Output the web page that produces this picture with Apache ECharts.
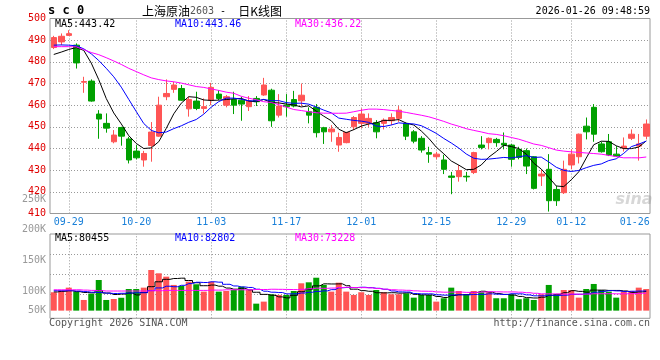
<!DOCTYPE html>
<html><head><meta charset="utf-8">
<script src="https://cdn.jsdelivr.net/npm/echarts@6/dist/echarts.min.js"></script>
<style>html,body{margin:0;padding:0;background:#fff}#c{width:660px;height:360px}</style>
</head><body><div id="c"></div>
<script>
// ---------- data ----------
const dates = ['09-25','09-26','09-29','09-30',
 '10-09','10-10','10-13','10-14','10-15','10-16','10-17','10-20','10-21','10-22','10-23','10-24','10-27','10-28','10-29','10-30','10-31',
 '11-03','11-04','11-05','11-06','11-07','11-10','11-11','11-12','11-13','11-14','11-17','11-18','11-19','11-20','11-21','11-24','11-25','11-26','11-27','11-28',
 '12-01','12-02','12-03','12-04','12-05','12-08','12-09','12-10','12-11','12-12','12-15','12-16','12-17','12-18','12-19','12-22','12-23','12-24','12-25','12-26','12-29','12-30','12-31',
 '01-05','01-06','01-07','01-08','01-09','01-12','01-13','01-14','01-15','01-16','01-19','01-20','01-21','01-22','01-23','01-26'];
const xTickLabels = ['09-29','10-20','11-03','11-17','12-01','12-15','12-29','01-12','01-26'];

const opens = [486.6,489.2,492.2,487.7,470.6,471.1,455.9,451.6,443.1,449.7,
 444.4,438.8,434.7,441.4,445.7,463.9,467.3,467.7,458.3,461.9,
 458.5,462.3,465.1,460.0,462.6,462.3,459.3,463.1,464.7,466.9,
 455.4,460.0,462.6,462.0,457.0,459.0,449.6,447.7,441.6,442.7,
 450.0,451.6,451.6,451.9,451.6,452.8,453.9,451.6,447.7,444.7,
 438.1,436.2,434.7,427.3,427.0,427.2,428.9,441.6,442.7,444.2,
 442.4,441.6,439.6,439.0,436.2,427.3,430.4,421.1,419.6,432.4,
 436.2,450.3,459.0,442.1,443.1,437.4,440.2,444.7,441.1,445.7];
const closes = [491.2,491.8,493.0,479.5,470.9,461.9,453.6,449.4,446.2,445.7,
 434.7,435.7,437.7,447.6,460.0,465.4,469.3,462.3,462.6,458.5,
 459.3,468.2,463.1,463.9,460.0,460.5,461.9,461.6,469.3,452.8,
 459.6,459.3,459.6,464.6,455.4,447.3,447.7,449.0,445.1,447.4,
 454.3,455.9,453.9,447.7,453.1,454.3,457.7,445.7,443.4,439.3,
 437.4,437.4,430.4,426.7,429.8,426.9,438.1,440.5,444.7,442.7,
 441.6,435.0,435.9,431.9,421.6,428.2,415.9,415.9,430.4,437.4,
 446.6,447.7,446.6,438.5,437.0,436.5,441.1,446.6,442.1,451.3];
const lows = [485.9,487.7,492.0,476.9,465.7,461.6,444.5,447.3,442.4,441.3,
 433.1,435.0,431.6,433.9,445.4,462.3,465.7,462.0,454.7,457.7,
 456.2,460.0,462.3,459.0,455.9,452.8,457.3,459.6,464.3,450.0,
 454.3,454.7,459.0,459.6,451.6,445.1,442.1,443.1,438.5,442.4,
 448.5,449.3,450.0,444.7,448.8,450.8,452.3,443.9,442.4,438.1,
 433.4,435.0,428.2,418.9,424.7,424.7,428.2,439.6,439.6,440.8,
 439.6,431.6,435.0,428.2,421.1,422.7,410.9,413.5,419.0,430.4,
 433.1,444.2,443.1,438.1,436.5,436.2,438.6,443.9,434.4,444.2];
const highs = [492.0,493.1,494.6,488.5,473.1,471.9,457.7,456.2,448.5,450.0,
 445.4,441.6,438.9,452.2,463.9,471.9,470.8,469.3,463.9,466.2,
 463.1,470.3,466.9,464.7,466.2,463.9,464.2,464.2,472.6,467.6,
 465.1,465.1,466.6,470.0,459.0,460.5,450.0,450.8,447.3,447.7,
 455.0,458.5,456.2,453.1,453.9,456.2,459.6,451.9,448.5,445.7,
 440.8,438.5,437.1,429.2,432.4,429.2,438.5,445.7,445.1,444.9,
 447.4,442.1,440.8,440.0,436.5,430.1,437.4,422.7,434.4,439.6,
 446.9,454.3,460.5,443.1,446.7,441.1,445.1,448.8,446.7,453.4];
const volumes = [80000,82000,87500,81000,67400,77700,100000,67400,69000,71000,
 85300,85300,87500,116300,110900,105400,91900,90200,97200,93000,
 81000,97200,81000,82000,83700,89100,83700,61400,64700,76700,
 75600,75600,82000,94600,96200,103700,91900,81000,95600,81000,
 75600,80000,75600,83700,80000,76700,76700,78300,71200,75600,
 75600,64700,70200,87500,82000,76700,82000,80000,80000,70200,
 70200,76700,68600,70200,67400,76700,91900,76700,83700,83700,
 71200,85300,93500,83700,81000,71200,81000,82000,87500,85300];

// averages at the left edge need days before the chart
const ma5Head  = [483.4,484.5,485.7,486.6];
const ma10Head = [487.7,487.8,487.7,487.4,486.0,483.7,480.6,477.0,473.1];
const ma30Head = [487.0,487.0,487.0,486.9,485.6,484.3,483.3,481.9,480.4,478.8,477.0,475.5,474.0,472.6,471.8,
 471.2,470.8,470.2,469.4,468.6,468.2,467.5,466.8,466.0,465.5,464.1,463.2,462.5,461.6];
const volMa5Head  = [80500,81500,82500,81000];
const volMa10Head = [82500,82500,82500,82000,81000,80000,79500,78500,78000];
const volMa30Head = [84000,84000,84000,84000,83500,83000,82500,82000,82000,82000,82000,82000,82000,82500,82500,
 83000,83000,83000,83000,83000,83000,83500,83500,84000,84000,84000,84000,84500,84500];

const priceMaLabels = ['MA5:443.42','MA10:443.46','MA30:436.22'];
const volMaLabels = ['MA5:80455','MA10:82802','MA30:73228'];
const volBaseLevel = 50000;

// ---------- helpers ----------
function movingAvg(values, n, head) {
  return values.map((v, i) => {
    if (i < n - 1) return head[i];
    let s = 0;
    for (let k = i - n + 1; k <= i; k++) s += values[k];
    return +(s / n).toFixed(2);
  });
}
const RED = '#ff5555', GREEN = '#00a000';
const MONO = '"DejaVu Sans Mono", monospace';
const CJK = '"Noto Sans CJK SC", sans-serif';
const MA_COLORS = ['#000000', '#0000ff', '#ff00ff'];
const GRIDLINE = {type: [1, 2], color: '#999', width: 1};
const lastTick = xTickLabels[xTickLabels.length - 1];
const gridDates = xTickLabels.slice(0, -1);

const candleData = dates.map((d, i) => [opens[i], closes[i], lows[i], highs[i]]);
const ma5 = movingAvg(closes, 5, ma5Head);
const ma10 = movingAvg(closes, 10, ma10Head);
const ma30 = movingAvg(closes, 30, ma30Head);
const vma5 = movingAvg(volumes, 5, volMa5Head);
const vma10 = movingAvg(volumes, 10, volMa10Head);
const vma30 = movingAvg(volumes, 30, volMa30Head);

const vLines = {
  silent: true, symbol: 'none', z: 1, animation: false,
  label: {show: false}, lineStyle: GRIDLINE, emphasis: {disabled: true},
  data: gridDates.map(d => ({xAxis: d}))
};

function maSeries(data, color, xi, yi, step) {
  return {type: 'line', data, xAxisIndex: xi, yAxisIndex: yi, symbol: 'none', showSymbol: false,
    step: step || false, z: 3, silent: true,
    lineStyle: {color, width: 1}, itemStyle: {color}};
}

function txt(x, y, text, fill, align, font) {
  return {type: 'text', x, y, silent: true,
    style: {text, fill, font: font || ('10px ' + MONO), align: align || 'left', verticalAlign: 'middle',
            textAlign: align || 'left', textVerticalAlign: 'middle'}};
}

const chart = echarts.init(document.getElementById('c'));
chart.setOption({
  animation: false,
  backgroundColor: '#fff',
  grid: [
    {left: 50, right: 10, top: 18.5, height: 195, show: true, borderColor: '#999', borderWidth: 1},
    {left: 50, right: 10, top: 234, height: 84.3, show: true, borderColor: '#999', borderWidth: 1},
    {left: 50, right: 10, top: 188, height: 122.7},
    {left: 50, right: 10, top: 234, height: 80.3}
  ],
  xAxis: [
    {type: 'category', gridIndex: 0, data: dates, boundaryGap: true,
     axisLine: {show: false}, axisTick: {show: false}, splitLine: {show: false},
     axisLabel: {interval: (i, v) => xTickLabels.indexOf(v) >= 0, color: '#1a80d9',
       fontFamily: MONO, fontSize: 10, margin: 4,
       formatter: v => v === lastTick ? '{e|' + v + '}' : v,
       rich: {e: {padding: [0, 23, 0, 0], color: '#1a80d9', fontFamily: MONO, fontSize: 10}}}},
    {type: 'category', gridIndex: 1, data: dates, boundaryGap: true,
     axisLine: {show: false}, axisTick: {show: false}, axisLabel: {show: false}, splitLine: {show: false}},
    {type: 'value', gridIndex: 2, min: 0, max: 1, show: false},
    {type: 'value', gridIndex: 3, min: 0, max: 1, show: false}
  ],
  yAxis: [
    {type: 'value', gridIndex: 0, min: 410, max: 500, interval: 10, scale: true,
     axisLine: {show: false}, axisTick: {show: false},
     splitLine: {show: true, showMinLine: false, showMaxLine: false, lineStyle: GRIDLINE},
     axisLabel: {color: '#e00000', fontFamily: MONO, fontSize: 10, margin: 4, padding: [0, 0, 4, 0],
       showMinLabel: true, showMaxLabel: true}},
    {type: 'value', gridIndex: 1, min: 37500, max: 175000,
     axisLine: {show: false}, axisTick: {show: false}, axisLabel: {show: false}, splitLine: {show: false}},
    {type: 'value', gridIndex: 2, min: 50000, max: 250000, interval: 50000,
     axisLine: {show: false}, axisTick: {show: false}, splitLine: {show: false},
     axisLabel: {color: '#999', fontFamily: MONO, fontSize: 10, margin: 4, showMinLabel: true, showMaxLabel: true,
       formatter: v => v === volBaseLevel ? '{b|' + (v / 1000) + 'K}' : '{a|' + (v / 1000) + 'K}',
       rich: {a: {padding: [22, 0, 0, 0], color: '#999', fontFamily: MONO, fontSize: 10},
              b: {color: '#999', fontFamily: MONO, fontSize: 10}}}},
    {type: 'value', gridIndex: 3, min: 0, max: 4, interval: 1,
     axisLine: {show: false}, axisTick: {show: false}, axisLabel: {show: false},
     splitLine: {show: true, showMinLine: false, showMaxLine: false, lineStyle: GRIDLINE}}
  ],
  series: [
    {type: 'candlestick', name: 'K', data: candleData, xAxisIndex: 0, yAxisIndex: 0, barWidth: 6, z: 2,
     itemStyle: {color: RED, color0: GREEN, borderColor: RED, borderColor0: GREEN, borderWidth: 1},
     markLine: vLines},
    maSeries(ma5, MA_COLORS[0], 0, 0),
    maSeries(ma10, MA_COLORS[1], 0, 0),
    maSeries(ma30, MA_COLORS[2], 0, 0),
    {type: 'bar', name: 'base', stack: 'vol', data: dates.map(() => volBaseLevel), xAxisIndex: 1, yAxisIndex: 1,
     barWidth: 6, silent: true, z: 2, itemStyle: {color: 'rgba(0,0,0,0)'}, markLine: vLines},
    {type: 'bar', name: 'vol', stack: 'vol', data: volumes.map(v => v - volBaseLevel), xAxisIndex: 1, yAxisIndex: 1,
     barWidth: 6, silent: true, z: 2,
     itemStyle: {color: p => closes[p.dataIndex] >= opens[p.dataIndex] ? RED : GREEN}},
    maSeries(vma5, MA_COLORS[0], 1, 1, 'middle'),
    maSeries(vma10, MA_COLORS[1], 1, 1, 'middle'),
    maSeries(vma30, MA_COLORS[2], 1, 1, 'middle')
  ],
  graphic: [
    txt(48, 11, 's c 0', '#000', 'left', 'bold 12px ' + MONO),
    {type: 'text', x: 142, y: 11, silent: true,
     style: {text: '{a|上海原油}{b|2603}{c| -  }{a|日K线图}', verticalAlign: 'middle', textVerticalAlign: 'middle',
       rich: {a: {fontFamily: CJK, fontSize: 12, fill: '#000'},
              b: {fontFamily: MONO, fontSize: 10, fill: '#555'},
              c: {fontFamily: MONO, fontSize: 10, fill: '#000'}}}},
    txt(650, 11, '2026-01-26 09:48:59', '#000', 'right'),
    txt(55, 24, priceMaLabels[0], MA_COLORS[0]),
    txt(175, 24, priceMaLabels[1], MA_COLORS[1]),
    txt(295, 24, priceMaLabels[2], MA_COLORS[2]),
    txt(55, 238.5, volMaLabels[0], MA_COLORS[0]),
    txt(175, 238.5, volMaLabels[1], MA_COLORS[1]),
    txt(295, 238.5, volMaLabels[2], MA_COLORS[2]),
    txt(634, 200, 'sina', 'rgba(140,140,140,0.35)', 'center', 'italic bold 16px "DejaVu Sans", sans-serif'),
    txt(49, 323.5, 'Copyright 2026 SINA.COM', '#555'),
    txt(650, 323.5, 'http://finance.sina.com.cn', '#555', 'right')
  ]
});
</script></body></html>
